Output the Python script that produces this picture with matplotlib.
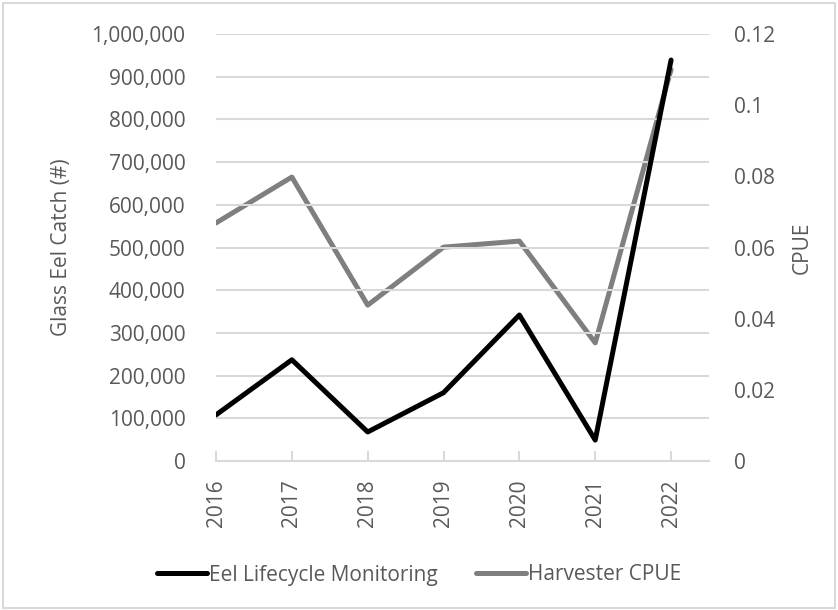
import matplotlib
matplotlib.use('Agg')
import matplotlib.pyplot as plt
from matplotlib.ticker import FuncFormatter, MultipleLocator

years = ['2016', '2017', '2018', '2019', '2020', '2021', '2022']
elm_catch = [108000, 237000, 68000, 160000, 342000, 49000, 939000]
harvester_cpue = [0.0669, 0.0798, 0.0438, 0.0601, 0.0618, 0.0332, 0.1100]

txt = '#595959'
grid = '#d9d9d9'
plt.rcParams['font.family'] = ['Open Sans', 'DejaVu Sans']
plt.rcParams['font.size'] = 15

fig = plt.figure(figsize=(8.38, 6.1), dpi=100)
# outer chart border
fig.patches.append(plt.Rectangle((0.004, 0.004), 0.992, 0.991, transform=fig.transFigure,
                                 fill=False, edgecolor=grid, lw=1.5))

ax = fig.add_axes([216/838, 1-461/610, (709-216)/838, (461-34)/610])
ax2 = ax.twinx()
x = list(range(len(years)))

l1, = ax.plot(x, elm_catch, color='black', lw=3.6, solid_capstyle='round', zorder=3,
              label='Eel Lifecycle Monitoring')
l2, = ax2.plot(x, harvester_cpue, color='#7f7f7f', lw=3.6, solid_capstyle='round', zorder=3,
               label='Harvester CPUE')
ax.set_zorder(ax2.get_zorder() + 1)
ax.patch.set_visible(False)

ax.set_xlim(0, 6.5)
ax.set_ylim(0, 1000000)
ax2.set_ylim(0, 0.12)
ax.yaxis.set_major_locator(MultipleLocator(100000))
ax2.yaxis.set_major_locator(MultipleLocator(0.02))
ax.yaxis.set_major_formatter(FuncFormatter(lambda v, p: f'{int(v):,}'))
ax2.yaxis.set_major_formatter(FuncFormatter(lambda v, p: '0' if v == 0 else f'{v:g}'))
ax.grid(axis='y', color=grid, lw=1.5)
ax.set_axisbelow(True)

ax.set_xticks(x)
ax.set_xticklabels(years, rotation=90)
for a in (ax, ax2):
    for s in a.spines.values():
        s.set_visible(False)
ax.spines['bottom'].set_visible(True)
ax.spines['bottom'].set_color(grid)
ax.spines['bottom'].set_linewidth(1.5)
ax.tick_params(axis='x', direction='in', length=7, width=1.5, color=grid, colors=txt, pad=13)
ax.tick_params(axis='y', length=0, colors=txt, pad=22)
ax2.tick_params(axis='y', length=0, colors=txt, pad=18)

ax.set_ylabel('Glass Eel Catch (#)', color=txt, labelpad=14)
ax2.set_ylabel('CPUE', color=txt, labelpad=12)

fig.legend(handles=[l1, l2], loc='center', bbox_to_anchor=(0.5, 1-575/610), ncol=2,
           frameon=False, handlelength=2.4, handletextpad=0.1, columnspacing=1.8,
           labelcolor=txt, fontsize=15)

fig.savefig('out.png', dpi=100)
